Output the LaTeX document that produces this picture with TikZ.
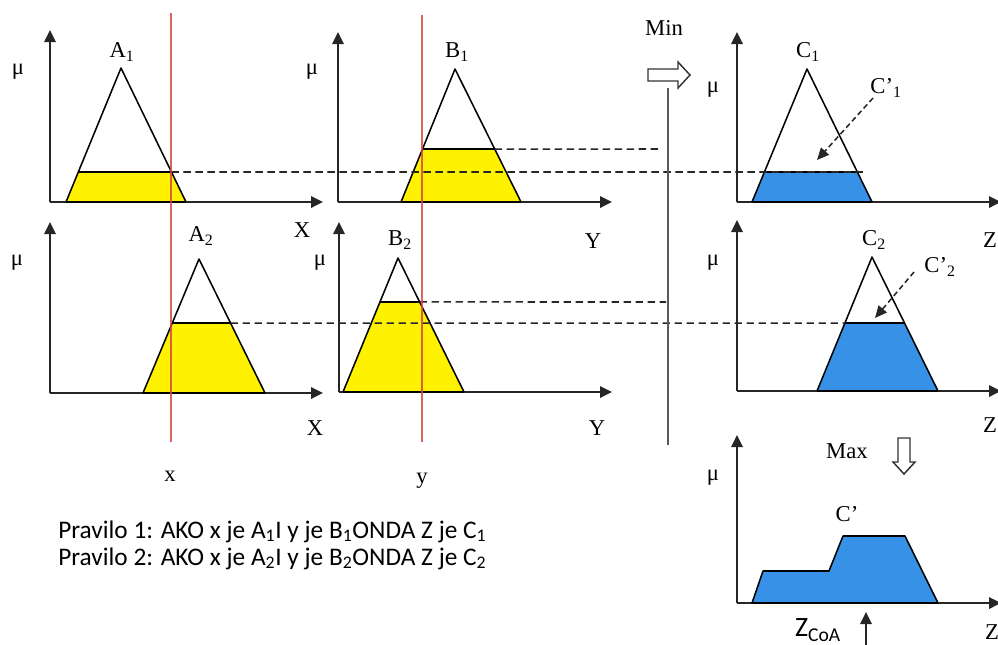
\documentclass[tikz,border=0pt]{standalone}
\usepackage{fontspec}
\setmainfont{Liberation Serif}
\newfontfamily\rulefont{Carlito}
\usetikzlibrary{arrows.meta,calc}
\definecolor{yel}{RGB}{255,242,0}
\definecolor{blu}{RGB}{55,145,230}
\definecolor{redl}{RGB}{215,70,70}
\begin{document}
\begin{tikzpicture}[x=0.75pt,y=-0.75pt,
  axis/.style={draw=black!85, line width=1.7pt, -{Triangle[length=9pt,width=8.5pt]}},
  memb/.style={draw=black, line width=1.15pt, line join=round},
  cutline/.style={draw=black!85, line width=1.15pt, dash pattern=on 5.5pt off 3.5pt},
  redline/.style={draw=redl, line width=0.9pt, opacity=0.85},
  lab/.style={font=\fontsize{17}{20}\selectfont, inner sep=0pt},
  rule/.style={font=\rulefont\fontsize{19}{22}\selectfont, inner sep=0pt, anchor=base west},
  hollow/.style={draw=black!80, line width=1.1pt, fill=white, line join=miter}]
\useasboundingbox (0,0) rectangle (998,644);

% ---------- axes ----------
\foreach \nm/\ox/\oy/\ty/\ex in {a1/50/202/30/323, b1/338/202/32/612, c1/737/202/32/1001,
                                  a2/50/393/222/323, b2/339/392/222/612, c2/737/391/220/1001,
                                  d/737/603/435/1001}{
  \coordinate (o\nm) at (\ox,\oy);
  \coordinate (t\nm) at (\ox,\ty);
  \coordinate (e\nm) at (\ex,\oy);
  \draw[axis] (o\nm) -- (t\nm);
  \draw[axis] (o\nm) -- (e\nm);
}

% ---------- membership functions ----------
\foreach \nm/\lx/\ly/\px/\py/\rx/\t/\col in {
   A1/66/202/121/68/186/0.224/yel,
   B1/401/202/455/69/521/0.398/yel,
   C1/752/202/807/69/872/0.2256/blu,
   A2/143/393/199/259/265/0.522/yel,
   B2/343/392/398/258/464/0.672/yel,
   C2/817/391/872/257/938/0.507/blu}{
  \coordinate (L\nm) at (\lx,\ly);
  \coordinate (P\nm) at (\px,\py);
  \coordinate (R\nm) at (\rx,\ly);
  \coordinate (CL\nm) at ($(L\nm)!\t!(P\nm)$);
  \coordinate (CR\nm) at ($(R\nm)!\t!(P\nm)$);
  \fill[\col] (L\nm) -- (CL\nm) -- (CR\nm) -- (R\nm) -- cycle;
  \draw[memb] (L\nm) -- (P\nm) -- (R\nm);
  \draw[memb] (CL\nm) -- (CR\nm);
  \draw[memb, line width=1.5pt] (L\nm) -- (R\nm);
}

% ---------- aggregated output ----------
\coordinate (g1) at (752,603);
\coordinate (g2) at (763,571);
\coordinate (g3) at (829,571);
\coordinate (g4) at (843,536);
\coordinate (g5) at (905,536);
\coordinate (g6) at (938,603);
\draw[memb, fill=blu] (g1) -- (g2) -- (g3) -- (g4) -- (g5) -- (g6) -- cycle;

% ---------- dashed cut lines ----------
\coordinate (d1e) at (865,172);
\coordinate (d2e) at (660,149);
\coordinate (d4e) at (666,302);
\draw[cutline] (CRA1) -- (d1e);
\draw[cutline] (CRB1) -- (d2e);
\draw[cutline] (CRA2) -- (CLC2);
\draw[cutline] (CRB2) -- (d4e);

% ---------- red input lines ----------
\coordinate (rx1) at (171,13);
\coordinate (rx2) at (171,442);
\coordinate (ry1) at (422,15);
\coordinate (ry2) at (422,442);
\draw[redline] (rx1) -- (rx2);
\draw[redline] (ry1) -- (ry2);

% ---------- vertical min separator ----------
\coordinate (v1) at (668,88);
\coordinate (v2) at (668,445);
\draw[draw=black!65, line width=1.3pt] (v1) -- (v2);

% ---------- hollow arrows ----------
\draw[hollow] (648,69) -- (678,69) -- (678,62) -- (690,75) -- (678,88) -- (678,81) -- (648,81) -- cycle;
\draw[hollow] (898,438) -- (910,438) -- (910,462) -- (915,462) -- (904,474) -- (893,462) -- (898,462) -- cycle;

% ---------- C' pointer arrows ----------
\node[lab] (cp1) at (886,88) {C’\textsubscript{1}};
\node[lab] (cp2) at (940,267) {C’\textsubscript{2}};
\coordinate (cp1t) at (817,160);
\coordinate (cp2t) at (875,318);
\draw[cutline, dash pattern=on 4pt off 2.5pt, -{Triangle[length=9pt,width=8pt]}] (873,98) -- (cp1t);
\draw[cutline, dash pattern=on 4pt off 2.5pt, -{Triangle[length=9pt,width=8pt]}] (914,272) -- (cp2t);

% ---------- labels ----------
\node[lab] (la1) at (122,52) {A\textsubscript{1}};
\node[lab] (lb1) at (457,52) {B\textsubscript{1}};
\node[lab] (lc1) at (808,52) {C\textsubscript{1}};
\node[lab] (la2) at (201,236) {A\textsubscript{2}};
\node[lab] (lb2) at (400,240) {B\textsubscript{2}};
\node[lab] (lc2) at (874,240) {C\textsubscript{2}};
\node[lab] (lcp) at (847,514) {C’};

\node[lab] (mu1) at (18,72) {μ};
\node[lab] (mu2) at (312,72) {μ};
\node[lab] (mu3) at (713,90) {μ};
\node[lab] (mu4) at (17,263) {μ};
\node[lab] (mu5) at (320,263) {μ};
\node[lab] (mu6) at (713,263) {μ};
\node[lab] (mu7) at (713,478) {μ};

\node[lab] (X1) at (302,230) {X};
\node[lab] (Y1) at (593,241) {Y};
\node[lab] (Z1) at (990,240) {Z};
\node[lab] (X2) at (315,428) {X};
\node[lab] (Y2) at (597,428) {Y};
\node[lab] (Z2) at (990,425) {Z};
\node[lab] (Z3) at (992,632) {Z};

\node[lab] (xl) at (170,476) {x};
\node[lab] (yl) at (422,481) {y};

\node[lab] (min) at (664,28) {Min};
\node[lab] (max) at (847,451) {Max};

\node[font=\rulefont\fontsize{21}{24}\selectfont, inner sep=0pt] (zcoa) at (818,630) {Z\textsubscript{CoA}};
\coordinate (zb) at (866,646);
\coordinate (zt) at (866,612);
\draw[draw=black!85, line width=1.7pt, -{Triangle[length=9pt,width=8.5pt]}] (zb) -- (zt);

% ---------- rules ----------
\node[rule] (r1) at (58,538) {Pravilo 1: AKO x je A\textsubscript{1}I y je B\textsubscript{1}ONDA Z je C\textsubscript{1}};
\node[rule] (r2) at (58,565) {Pravilo 2: AKO x je A\textsubscript{2}I y je B\textsubscript{2}ONDA Z je C\textsubscript{2}};
\end{tikzpicture}
\end{document}
